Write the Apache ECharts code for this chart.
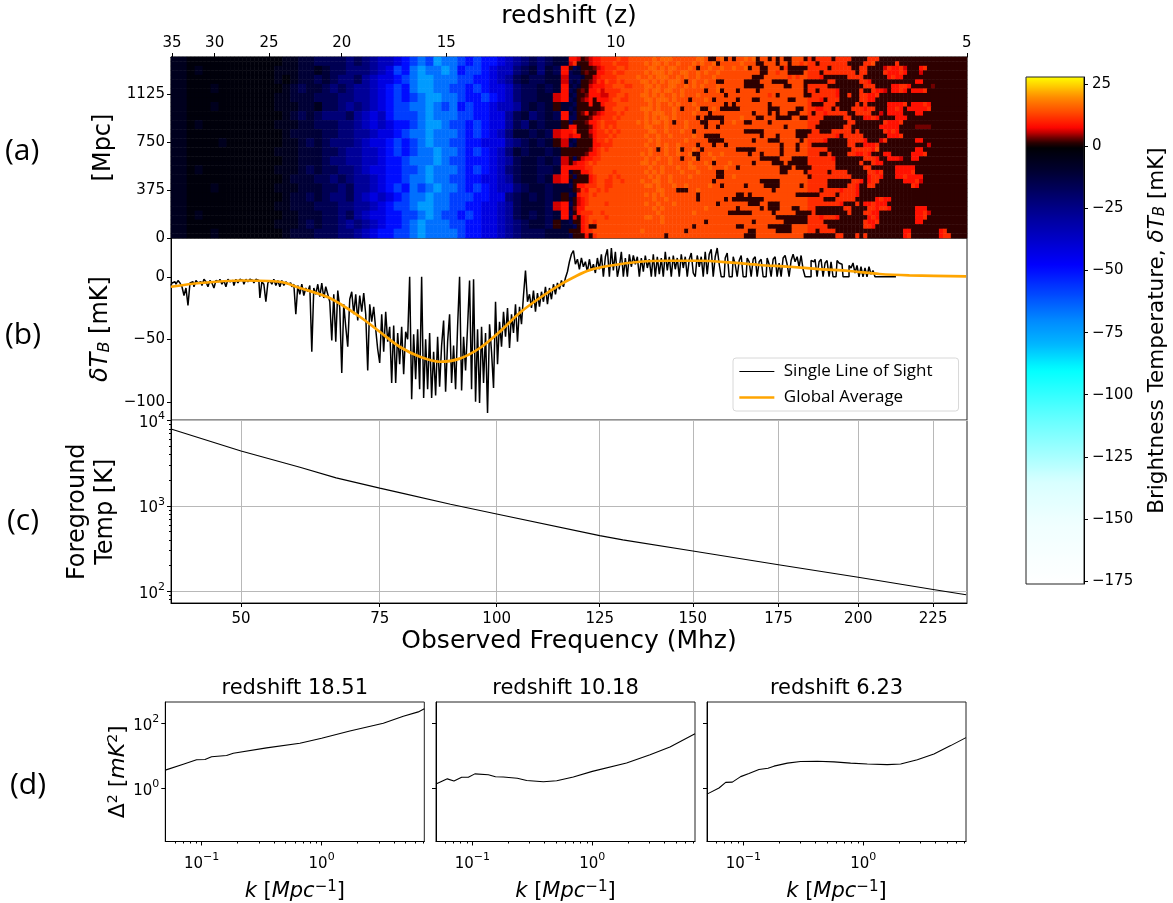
<!DOCTYPE html>
<html><head><meta charset="utf-8">
<style>html,body{margin:0;padding:0;background:#fff}#c{width:1173px;height:903px}</style>
<script src="https://cdn.jsdelivr.net/npm/echarts@6/dist/echarts.min.js"></script></head>
<body><div id="c"></div>
<script>
// ---------- data ----------
const freqTicks=[50,75,100,125,150,175,200,225];
const redshiftTicks=[35,30,25,20,15,10,5];
const mpcTicks=[0,375,750,1125];
const tbTicks=[-100,-50,0];
const cbarTicks=[25,0,-25,-50,-75,-100,-125,-150,-175];
const freqRange=[39.3,236.8];
const colorRange=[-176.2,27.9];
// brightness-temperature map, coded one character per cell (mK levels below)
const mapLevels={'.':-2,a:-6,b:-11,c:-16,d:-22,e:-28,f:-35,g:-42,h:-50,i:-58,j:-66,l:-74,k:1.5,m:3.5,n:6,o:8.5,p:11,q:13.5,s:16,t:17};
// low-frequency half (each character covers 2x2 cells of the map)
const mapRowsLow=[
'aa........ ....aabbcc ccdcdeffgh ijiljjihih hgfedcdcbb',
'aa.a...... ...aaabbab ccdddefgih jljjljhiih gffdcbdbco',
'aa........ ...a.abbcb cddcefgghi jlljjjiihh gfecbccbbn',
'aa...a.... ....abcbbc dcdeefghih jlljjiihih ggfdccbcbo',
'aa........ ...aabbbcc cddeefghih ijlljjihhi hgfdccbbno',
'aa...a.... ...aaabbac cdedefghii jjljijhihh gffecbcbkb',
'aa........ ....abcbcd ddcefgfhii ijljjjiihh ggecbdcbco',
'aa.a...... ...aaabbcc cddefgfghh ijlljiihih ggecdbcbbk',
'aa........ ....abbbbc cddeefgghi jjljjjihih gfdbbcbcno',
'aa....a... ....aabcbc dddefgghih ijljjiihhg ggedcbcbkn',
'aa........ ...aaabbbc cdeeffghih ijjljjihih gfdbcbbcbk',
'aa........ ....aabbbc ddeeffghhi jjjljiihhh gfecbbcbcn',
'aa.a...... ...aaabcbc cddefgghhi ijljjjihih gfdcbbccbo',
'aa........ ....abbbcc dcdeefghhi jjljjiihhg gfecbbcbno',
'aa...a.... ...aaabbbc cdceefghih jijljjihih gffdcbbcbb',
'aa........ ....abbcbc ddcefgfghi jjljjiiihh ggdcbcbcbk',
'aa........ ...aabbbcc cddeefghii jlljjiihhg gfecbbbcno',
'aa.a...... ....aabbbc cdcefgghhi ijljiihihg gfecbcbcbo',
'aa........ ...aaabcbc cdedefghhi jljjjiihhg gfedcbbckb',
'aa...a.... ....abbbcc cddefghhii jljjjjihhg gfedcccbbb'
];
// high-frequency half (one character per cell)
const mapRowsHigh=[
'oonkmnoopp ppqppqqqqq qsqsssqqqq qqssqkkqsk qkqqsqskqq kqkqkkqqqk pkppppkppp pkkkkpppkk kkkkkkkkkk kkkkkkkkkk',
'npkkknoopp pqpppqqqqs qssqsqqsqq qsqsqqskqq qqqsqqqkkq qqkqqkqqpq ppkppppppp kkkkppqkkk kkpkkkkkkk kkkkkkkkkk',
'kcbkkkmnop ppqqpqqqqq ssqsqssqqq sqkqqsqqsq qsqqskqqkk qqqkpkkkkk pppppkpppp pkkppkkkkn poopnkkkop kkkkkkkkkk',
'cbbkmkkoop pqppqqqqqs qsssqsqqss qqsqsqqsqq qqqqqqqqkk qqpqqkkkkq pppkpppppp ppkppkkkkp ooopokkknk kkkkkkkkkk',
'cccbkknopp ppqqqqqsqq sqsssqqsqs qqsqqqsqqq qqqqqqkkkq qqqqqpqpqq pppokkkkkk ppppkkkkkk opookkkkkk kkkkkkkkkk',
'cbckkmnpoq ppqpqqqqss qsqsqsssqk qsqqsqqkkq qqqqkkkkqq qkkkkqqqqk kkkkkppkkk kkkppokkkk kkkkkkkook kkkkkkkkkk',
'bcbkknooop pqqqppqqqs sqsqqssqqs qsqsqqqsqq qqqqkkkkkq qqqqkkqqqk pppppkkkkk kkkkpppkkk kooppokkkk kmkkkkkkkk',
'cbkmkoopnp pppqqqqqqs qssqssqqsq qqqqkqqskq qqkqqqqkqq qqqqqqqqqk ppkppppokk kkkpkkpoon koopokooop kkkkkkkkkk',
'bckkmooonn ppqqpqqqss qsqsqqsqsq qqsqqqqqqk qqqqqqqqqq pqkqqqqqqk kppppppokk pkkppoopkk kkkkkkkkkk kkkkkkkkkk',
'cbkmnokooo pqqppqqqqs sqsssqsqqq kqqqsqkqqq qqkqqqkkqq qqqqqkkqqq pppokpppkk kkkppookkk kkkkkkkkkk kkkkkkkkkk',
'bckkkokkop ppqqqqqqqq sqsqqsqsqq qsqqqqqqqk qkqqqqqqqq kqqqqqqqqq pkkkpppkkk kkpkpkkkkk oooopkooop okkkkkkkkk',
'cbkkkkkkmp pqqqpqqqss sqsqqqsqkq qqskkqsqkk kkkqqqqqqq kkkqqqqkkq ppooppkpkk kpppoppkkk oopokooooo pkkkkkkkkk',
'bckmokmnop ppqpqqqqqs qsssqqsqqq qsqqqkqqqq qqqqqqkqqq kqkqqkkkqq pkppoppppp kkppppkknk ooookkkook kkkkkkkkkk',
'cckkkmoopp pqpqqqqqqs qsqssqsqqq qqkqkkkkkq qqqsqqqkkq qqkkkkqqkk ppppkkkkkp pkkkoopokk kkoookkkkk kkkkkkkkkk',
'ckkkmoopqp ppqqqqqsqs qssqsqkqqs qqqkkqqqkq qsqqkkqqqq kqqqqqqqqq pppkkkkkkk ppkkkkkkkp ooopkkkkkk kkkkkkkkkk',
'ookkkmopqp qpqqqqqqqs sqqqsqqqqs qqqqkqqkqq qqqqqqqqqq qqqqkqqqqq ppkkkkkkkp pkkkkkkkoo oookkkkmmm mkkkkkkkkk',
'opkkknoppq pqpqqqqqqq ssqqsqqqsq qkqqqqqqqq qqqqkkkkkq qqqqqqqkkk kppkkkpppp pkpkkkkkkp opokkkkkkk kkkkkkkkkk',
'nookkmoppp qpqqqqqqqs qqsqqsqqqq qsqqkkkkqq qqqqqqqqkq qqkqqqqkkk pppppppokp ppppkkkkkk ooopkkkkkk kkkkkkkkkk',
'bckkkkoppq pqqqqqqqqq sqsqqqqqqs qqqqqkkkkq qqqqqqkqqq kkkqqqqqkq ppppokkkkk ppppokkknp kkkkkkkook kkkkkkkkkk',
'cbkkkkoopp pqqqqqqqqs qqsqsqqsqq qqkqqqkqqk qqqqqqqqqq qqqkqqqkqq pkkkkkkkkk ppkkooopkk kkkkkkkkkk nkkkkkkkkk',
'kkkkkmopqp qqqqqqqqqq sqkqsqqskq qsqkqqqqqq qqkkkkkqqq qqqkqqqkqq pppppkkkkk kpppppoqkk kkkkkkkook kkkkkkkkkk',
'kkkkmoopqq qqqqqqqqsq sqqqsqqsqq skkqqsqqsq qqqqqkqqkq qqqkqqqqqq pppkkpkkkk ppoopokkko okkkkkooop kkkkkkkkkk',
'kcknooppqq qqqqqqqqqs qqsqqsqqkq qskqqqsqqq qqqqqqqqkk kkkqqqkkkk ppppppokkk kkkkpppokk ooonkkookk kkkkkkkkkk',
'knoopqpqqq qqqqqqqqss qsqqqsqqqq sqqqsqkqqq sqqqqqkqqq qkkkqkkkkk pppppppkkk kkkpkkpook kkkkkkkkkk kkkkkkkkkk',
'ooooppqqqq qqqqqqqqqq sqqsqqqsqq ssqqqsqqqs qqkqqqqqqq qqqkkkqkkk kppppppkkk kkkkppkkkk kkoooookkkk kkkkkkkkkk',
'bkkoopqqqq qpqqqqqqqs qsqsqqqqsq qqsqqqqkkq qqqqqqqqqq qqqkkqqqqk pppppkpppp kkkkkppopk kkoooopkkk kkkkkkkkkk',
'kckkkopqqq pqpqqqqqqq sqsqqsqqqq sqqqqqqkkq qsqqqqqqqq qqqqqqqqqq kppppppppp pkkkkoppok kkoopooook kkkkkkkkkk',
'bkkkkopqqp pqqpqqqqsq qssqqsqqqq qqqqqqkqqq qqqqqqqqkk kkkqqqqqqq pppppkkkkk kppokoppkk kkkkooopnk kkkkkkkkkk',
'ckoopppqqp pqqqqqqqqs sqsqqqsqqs qqqqqsqqkq qqqqkqqqqk kkkqqqqqkq pppppkkkkk ppokkppkkk kkkkkkpokk kkkkkkkkkk',
'bkmpoqqpqp qqqqqqqqqq qqssqqqkkk qqsqqqqqqq qqqqqqqqqq qkqqqqqqqq pppkppppop ppokkkkkkk kkkkkkkkkk kkkkkkkkkk',
'cboppqpqqq qqqqqqqqqs qsqsqqqqqq qqkqqqqqqq qqkkqkqqqq qqqqqqqkkk kkkppppkpp ppokkkkkkk kkkkkkkkkk kkkkkkkkkk',
'bknopqqqqq qqqqqqqqqq qsqqsqqqqq qqkqqqqqqk qkkkkkkkkq qqqqqqqqqq ppppkkkppp ppkkkkkopo okkkkkkkkk kkkkkkkkkk',
'cknopqqqqp qqqqqqqqqs qqsqqqsqqq qqqqqqqkqq qqqqqkkkqq kkkqqqqqqq ppppppppok kkpkoopooo kkkkkkkkkk kkkkkkkkkk',
'bmooqqqqqq qqqqqqqqqq qsqsqqqqqq qqqqsqqqqq qqkqqqqqkq kkkqqqkkqq ppkkkkkkkp pkkkkppopp okkkkkkooo kkkkkkkkkk',
'ckopppqqpq qqqqqqqqqq qqsqqqqqqq qsqqqqqqqq kkkkkkqqqq qkqqqqqkkk kpkkkkkkkk pkkkppookk kkkkkkkoop nkkkkkkkkk',
'bnkopqqqqp qqqqqqqqqs sqqsqqqqqq qqqqqqqqqq qqqqqqqqqq qqkkkkkkkk pppopppokk kkkkkopokk kkkkkkkoop kkkkkkkkkk',
'ckkopqpqqq qqqqqqqqqq qqqsqqqqqq qqqqkqqqqq qqqqqqkqqq qqqqkkkkkk ppppkkkkkk kkkkpoopkk kkkkkkkook kkkkkkkkkk',
'bckopkkqqq qqqqqqqqqq qqqqqqqqqq qkqqqqqqqq qqkkqqqqqq kkkkkkqqqq pppppkkkkk kkkkppokkk kkkkkkkkkk kkkkkkkkkk',
'kkkoppqqqq qqqqqqqqsq qqqqqqqqqk qqqqqqqqqq qqqqqkkqqq qqkkkkqqqq ppkppppkkk kkkkkkkkkk kkkkookkkk kkkopkkkkk',
'ckkkokpqqq qqqqqqqqqq qqqqkqqqqq qqqqqqqqqq qqqqkkkqqq qqqqqqqqqk kkkkkkkppk kkpkpkkkkk kkkkopkkkk kkkoppkkkk'
];
// single line of sight, mK, evenly spaced along the axis from its left end
const losStep=0.02288;
const losValues=[-7,-5,-4,-6,-3,-5,-8,-15,-9,-23,
-5,-4,-8,-3,-5,-4,-7,-2,-4,-8,-3,-5,-9,-3,-4,-2,-6,-3,-8,-2,-4,-3,-7,-2,-5,-2,-3,-6,-2,-4,-2,-3,-5,-2,-3,
-17,-4,-6,-20,-5,-3,-6,-2,-7,-3,-8,-3,-7,-4,-6,-5,-8,-6,-30,-7,-14,-6,-15,-9,-12,-7,-60,-9,-14,-6,-16,-5,-17,-8,-14,-20,-51,-14,-52,-11,-25,-77,-22,-40,-56,-18,-12,-30,-14,-35,-15,-28,-13,-30,-75,-22,-36,-24,-42,-58,-69,-30,-60,-28,-52,-40,-85,-39,-85,-45,-70,-40,-78,-44,-50,0,-98,-46,-82,-42,-90,0,-97,-50,-90,-45,-97,-60,-95,-48,-88,-55,-35,-92,-52,-30,-85,-55,-90,-40,0,-91,-48,-75,-40,-3,-90,-2,-100,-42,-101,-40,-85,-45,-109,-38,-60,-89,-20,-70,-36,-56,-28,-48,-25,-57,-30,-45,-22,-52,-24,-38,-15,5,-20,-14,-25,-11,-28,-13,-24,-12,-20,-8,-22,-9,-18,-6,-14,-5,-10,-3,-8,-1,
4,12,18,21,10,14,6,15,8,12,4,14,5,10,3,15,6,18,0,16,22,0,23,5,20,0,8,20,0,15,0,18,8,17,10,16,0,15,4,17,7,14,0,18,0,16,2,15,0,20,5,16,0,17,6,15,0,18,7,16,0,14,19,3,0,17,8,16,0,20,2,18,22,0,16,23,10,0,0,15,19,0,0,16,10,0,13,17,0,0,15,12,0,14,16,0,12,14,0,0,15,10,0,14,16,0,11,0,15,17,10,0,13,18,12,16,8,17,6,0,0,0,13,12,14,0,12,14,0,11,13,0,12,0,0,13,11,10,0,0,0,9,7,11,3,9,0,8,0,7,0,8,2,5,0,0,0,0,0,0,0,0,0,0,0];
const avgFreq=[39.3,43.6,50,56.5,60,65.4,71.1,75,79,83.2,87.4,91.7,96.2,100.7,105.3,110.1,114.9,118.7,122.4,127.5,135.4,143.5,151.9,160.4,169.2,178.3,187.6,197.1,206.9,216.9,236.5];
const avgTemp=[-8,-5,-3,-4,-9,-17,-32,-44,-56,-64,-68,-65.5,-57,-44,-29,-17,-6.7,0,5.3,8.8,12,12.8,12.8,11.5,9.4,8,6.1,4.6,2.2,1.1,0.3];
const fgFreq=[39.3,50,60,66.6,75,79,89.7,100,125,131,150,175,200,225,236.5];
const fgTemp=[7950,4390,2840,2128,1615,1432,1047,805,449,400,296,205,146,105,91];
const pkTitles=['redshift 18.51','redshift 10.18','redshift 6.23'];
const pk1K=[.0498,.0703,.0908,.1067,.121,.1614,.1837,.348,.659,1,1.72,3.27,4.8,6.4,7.18];
const pk1D=[3.69,5.62,7.67,7.83,9.55,10.4,12.2,17.8,24.8,35.3,58.7,102,166,227,283];
const pk2K=[.0498,.0619,.0703,.0815,.0926,.105,.136,.156,.181,.237,.284,.391,.505,.695,1,1.93,3.03,4.44,7.18];
const pk2D=[1.39,1.99,1.7,2.22,2.22,2.83,2.65,2.32,2.27,2.07,1.78,1.63,1.74,2.27,3.38,6.14,10.9,19,48.2];
const pk3K=[.0498,.0627,.0713,.081,.095,.1114,.135,.1606,.18,.233,.3,.414,.57,.784,1.08,1.585,2.05,2.82,3.88,5.35,7.18];
const pk3D=[.676,1.04,1.55,1.58,2.33,2.9,3.84,4.2,4.89,6.07,6.76,6.92,6.62,6.07,5.69,5.45,5.69,7.71,11.6,20.9,36.8];
const kRange=[.0498,7.18], pkRange=[.0237,457], fgRange=[73,10000];
const kMajor=[.1,1], kMinor=[.06,.07,.08,.09,.2,.3,.4,.5,.6,.7,.8,.9,2,3,4,5,6,7];
const pkMajor=[1,100];
const fgMajor=[100,1000,10000], fgMinor=[80,90,200,300,400,500,600,700,800,900,2000,3000,4000,5000,6000,7000,8000,9000];
// colour map control points: value, colour
const cmapStops=[[-176.2,'#ffffff'],[-150,'#eeffff'],[-135,'#d8ffff'],[-125,'#a8ffff'],[-110,'#66ffff'],[-90,'#00ffff'],[-80,'#00b8ff'],[-70,'#0088ff'],[-48,'#0000ff'],[-25,'#000088'],[-10,'#000030'],[-3,'#000010'],[0,'#000000'],[3,'#600000'],[7,'#ff0000'],[13,'#ff4400'],[19.4,'#ff8800'],[25,'#ffd800'],[27.9,'#ffff00']];
// ---------- helpers ----------
const FONT='DejaVu Sans', INK='#000';
const sq=Math.sqrt, lg=Math.log10;
const hex=c=>[1,3,5].map(i=>parseInt(c.substr(i,2),16));
function cmapColour(v){for(let i=1;i<cmapStops.length;i++){if(v<=cmapStops[i][0]){const[a,ca]=cmapStops[i-1],[b,cb]=cmapStops[i];const t=(v-a)/(b-a),A=hex(ca),B=hex(cb);return 'rgb('+A.map((x,j)=>Math.round(x+(B[j]-x)*t)).join(',')+')';}}return '#ffff00';}
const cmap=[];for(let v=colorRange[0];v<=colorRange[1];v+=1)cmap.push(cmapColour(v));
const nameRich={n:{fontFamily:FONT,fontSize:24,color:INK},i:{fontFamily:FONT,fontSize:24,fontStyle:'italic',color:INK},
 sb:{fontFamily:FONT,fontSize:16,fontStyle:'italic',color:INK,padding:[8,0,0,0]},
 dn:{fontFamily:FONT,fontSize:22,color:INK},di:{fontFamily:FONT,fontSize:22,fontStyle:'italic',color:INK},
 spn:{fontFamily:FONT,fontSize:14,color:INK,padding:[0,0,10,0]},
 cn:{fontFamily:FONT,fontSize:21.5,color:INK},ci:{fontFamily:FONT,fontSize:21.5,fontStyle:'italic',color:INK},csb:{fontFamily:FONT,fontSize:15,fontStyle:'italic',color:INK,padding:[7,0,0,0]},
 kn:{fontFamily:FONT,fontSize:21,color:INK},ki:{fontFamily:FONT,fontSize:21,fontStyle:'italic',color:INK},ksp:{fontFamily:FONT,fontSize:15,color:INK,padding:[0,0,9,0]}};
const supRich={b:{fontFamily:FONT,fontSize:15,color:INK,padding:[5,0,0,0]},s:{fontFamily:FONT,fontSize:11,color:INK,padding:[0,0,8,0]}};
const powFmt=v=>'{b|10}{s|'+String(Math.round(v)).replace('-','\u2212')+'}';
const line={lineStyle:{color:INK,width:1}};
const baseLabel={fontFamily:FONT,fontSize:15,color:INK};
const yLabelPad=[4,0,0,0];
const grids=[],xAxes=[],yAxes=[],series=[];
function addGrid(l,t,r,b){grids.push({left:l,top:t,width:r-l,height:b-t,show:true,borderColor:'#222',borderWidth:1,backgroundColor:'transparent'});return grids.length-1;}
function axisX(o){xAxes.push(o);return xAxes.length-1;}
function axisY(o){yAxes.push(o);return yAxes.length-1;}
const onLine=Object.assign({show:true,onZero:false},line);
const fx=[sq(freqRange[0]),sq(freqRange[1])];
// panel (a)
const gA=addGrid(171,57,967,238);
const mapCells=mapRowsHigh.map((r,y)=>{const low=mapRowsLow[y>>1].replace(/ /g,'');return [...low].flatMap(c=>[c,c]).concat([...r.replace(/ /g,'')]);});
const mapData=[];
mapCells.forEach((r,y)=>r.forEach((ch,x)=>mapData.push([x,y,mapLevels[ch]])));
const xCat=axisX({gridIndex:gA,type:'category',show:false,data:mapCells[0].map((_,i)=>i)});
const yCat=axisY({gridIndex:gA,type:'category',show:false,inverse:true,data:mapCells.map((_,i)=>i)});
const zVals=redshiftTicks.map(z=>sq(1420.4/(1+z)));
axisX({gridIndex:gA,type:'value',position:'top',min:fx[0],max:fx[1],splitLine:{show:false},
 axisLine:onLine,axisTick:{show:true,length:4,customValues:zVals,...line},
 axisLabel:{...baseLabel,margin:6,customValues:zVals,formatter:v=>String(Math.round(1420.4/(v*v)-1)),hideOverlap:false},
 name:'redshift (z)',nameLocation:'middle',nameGap:28,nameTextStyle:{fontFamily:FONT,fontSize:25,color:INK}});
axisY({gridIndex:gA,type:'value',position:'left',min:0,max:1414,splitLine:{show:false},axisLine:onLine,
 axisTick:{show:true,length:4,customValues:mpcTicks,...line},axisLabel:{...baseLabel,margin:6,padding:yLabelPad,customValues:mpcTicks,formatter:v=>String(v)},
 name:'[Mpc]',nameLocation:'middle',nameRotate:90,nameGap:52,nameTextStyle:{fontFamily:FONT,fontSize:24,color:INK}});
series.push({name:'map',type:'heatmap',xAxisIndex:xCat,yAxisIndex:yCat,data:mapData,progressive:0,animation:false,emphasis:{disabled:true}});
// panel (b)
const gB=addGrid(171,238,967,420);
const xB=axisX({gridIndex:gB,type:'value',min:fx[0],max:fx[1],show:false,splitLine:{show:false}});
const yB=axisY({gridIndex:gB,type:'value',position:'left',min:-114.6,max:31,splitLine:{show:false},axisLine:onLine,
 axisTick:{show:true,length:4,customValues:tbTicks,...line},axisLabel:{...baseLabel,margin:6,padding:yLabelPad,customValues:tbTicks,formatter:v=>String(v).replace('-','\u2212')},
 name:'{i|\u03b4T}{sb|B}{n| [mK]}',nameLocation:'middle',nameRotate:90,nameGap:52,nameTextStyle:{rich:nameRich}});
series.push({name:'Single Line of Sight',type:'line',step:'middle',xAxisIndex:xB,yAxisIndex:yB,showSymbol:false,symbol:'none',lineStyle:{color:'#000',width:1.5},itemStyle:{color:'#000'},
 data:losValues.map((v,i)=>[fx[0]+losStep*i,v]),animation:false,z:2});
series.push({name:'Global Average',type:'line',xAxisIndex:xB,yAxisIndex:yB,showSymbol:false,symbol:'none',smooth:0.3,lineStyle:{color:'#ffa500',width:2.7},itemStyle:{color:'#ffa500'},
 data:avgFreq.map((f,i)=>[sq(f),avgTemp[i]]),animation:false,z:3});
// panel (c)
const gC=addGrid(171,420.5,967,603);
const fv=freqTicks.map(sq);
const gridLine={show:true,lineStyle:{color:'#b8b8b8',width:1}};
const xC=axisX({gridIndex:gC,type:'value',position:'bottom',min:fx[0],max:fx[1],splitLine:gridLine,axisLine:onLine,
 axisTick:{show:true,length:4,customValues:fv,...line},axisLabel:{...baseLabel,margin:9,customValues:fv,formatter:v=>String(Math.round(v*v))},
 name:'Observed Frequency (Mhz)',nameLocation:'middle',nameGap:26,nameTextStyle:{fontFamily:FONT,fontSize:25,color:INK}});
const fgLog=[lg(fgRange[0]),lg(fgRange[1])];
const yC=axisY({gridIndex:gC,type:'value',position:'left',min:fgLog[0],max:fgLog[1],splitLine:gridLine,axisLine:onLine,
 axisTick:{show:true,length:4,customValues:fgMajor.map(lg),...line},axisLabel:{...baseLabel,margin:6,customValues:fgMajor.map(lg),formatter:powFmt,rich:supRich},
 name:'Foreground\nTemp [K]',nameLocation:'middle',nameRotate:90,nameGap:51,nameTextStyle:{fontFamily:FONT,fontSize:24,lineHeight:28,color:INK}});
axisY({gridIndex:gC,type:'value',min:fgLog[0],max:fgLog[1],position:'left',splitLine:{show:false},axisLine:{show:false,onZero:false},axisLabel:{show:false},
 axisTick:{show:true,length:2,customValues:fgMinor.map(lg),...line}});
series.push({name:'foreground',type:'line',xAxisIndex:xC,yAxisIndex:yC,showSymbol:false,symbol:'none',lineStyle:{color:'#000',width:1.1},
 data:fgFreq.map((f,i)=>[sq(f),lg(fgTemp[i])]),animation:false});
// panels (d)
const pkX=[[165.3,424.3],[436,695],[707,966]];
const pkK=[pk1K,pk2K,pk3K], pkD=[pk1D,pk2D,pk3D];
const kLog=kRange.map(lg), pLog=pkRange.map(lg);
const titles=[];
pkX.forEach(([l,r],n)=>{
 const g=addGrid(l,702,r,850.7);
 const xi=axisX({gridIndex:g,type:'value',position:'bottom',min:kLog[0],max:kLog[1],splitLine:{show:false},axisLine:onLine,
  axisTick:{show:true,length:4,customValues:kMajor.map(lg),...line},axisLabel:{...baseLabel,margin:10,customValues:kMajor.map(lg),formatter:powFmt,rich:supRich},
  name:'{ki|k}{kn| [}{ki|Mpc}{ksp|\u22121}{kn|]}',nameLocation:'middle',nameGap:38,nameTextStyle:{rich:nameRich}});
 axisX({gridIndex:g,type:'value',position:'bottom',min:kLog[0],max:kLog[1],splitLine:{show:false},axisLine:{show:false,onZero:false},axisLabel:{show:false},
  axisTick:{show:true,length:2,customValues:kMinor.map(lg),...line}});
 const yOpt={gridIndex:g,type:'value',position:'left',min:pLog[0],max:pLog[1],splitLine:{show:false},axisLine:onLine,
  axisTick:{show:true,length:4,customValues:pkMajor.map(lg),...line},
  axisLabel:n===0?{...baseLabel,margin:6,customValues:pkMajor.map(lg),formatter:powFmt,rich:supRich}:{show:false}};
 if(n===0)Object.assign(yOpt,{name:'{dn|\u0394}{spn|2}{dn| [}{di|mK}{spn|2}{dn|]}',nameLocation:'middle',nameRotate:90,nameGap:34,nameTextStyle:{rich:nameRich}});
 const yi=axisY(yOpt);
 series.push({name:pkTitles[n],type:'line',xAxisIndex:xi,yAxisIndex:yi,showSymbol:false,symbol:'none',lineStyle:{color:'#000',width:1.1},
  data:pkK[n].map((k,i)=>[lg(k),lg(pkD[n][i])]),animation:false});
 titles.push({text:pkTitles[n],left:(l+r)/2,top:678,padding:0,textAlign:'center',textStyle:{fontFamily:FONT,fontSize:21,fontWeight:'normal',color:INK}});
});
// colour bar axis
const gBar=addGrid(1026,77,1084,584);
axisX({gridIndex:gBar,type:'value',show:false,min:0,max:1});
axisY({gridIndex:gBar,type:'value',position:'right',min:colorRange[0],max:colorRange[1],z:10,splitLine:{show:false},axisLine:onLine,
 axisTick:{show:true,length:4,customValues:cbarTicks,...line},axisLabel:{...baseLabel,margin:8,padding:yLabelPad,customValues:cbarTicks,formatter:v=>String(v).replace('-','\u2212')},
 name:'{cn|Brightness Temperature, }{ci|\u03b4T}{csb|B}{cn| [mK]}',nameLocation:'middle',nameRotate:90,nameGap:62,nameTextStyle:{rich:nameRich}});
grids[gBar].z=9;
const panelLetters=[['(a)',5,136],['(b)',5,320],['(c)',7,506],['(d)',10,770]];
const option={animation:false,backgroundColor:'#fff',
 grid:grids,xAxis:xAxes,yAxis:yAxes,series,title:titles,
 legend:{left:733,top:358,orient:'vertical',data:[{name:'Single Line of Sight',lineStyle:{width:1}},{name:'Global Average',lineStyle:{width:2.7}}],selectedMode:false,
  itemWidth:35,itemHeight:8,itemGap:9,padding:[5,26,5,5],borderColor:'#d8d8d8',borderWidth:1,borderRadius:3,backgroundColor:'#fff',
  itemStyle:{opacity:0},formatter:n=>' '+n,
  textStyle:{fontFamily:'Open Sans',fontSize:17,color:'#000'}},
 visualMap:{type:'continuous',seriesIndex:0,min:colorRange[0],max:colorRange[1],left:1026,top:77,padding:0,itemWidth:58,itemHeight:507,calculable:false,realtime:false,text:null,showLabel:false,hoverLink:false,inRange:{color:cmap},textStyle:{fontSize:0}},
 graphic:panelLetters.map(([t,x,y])=>({type:'text',left:x,top:y,style:{text:t,fontFamily:'Open Sans',fontSize:30,fill:'#000'}}))
};
const chart=echarts.init(document.getElementById('c'),null,{renderer:'canvas',width:1173,height:903});
chart.setOption(option);
</script></body></html>
